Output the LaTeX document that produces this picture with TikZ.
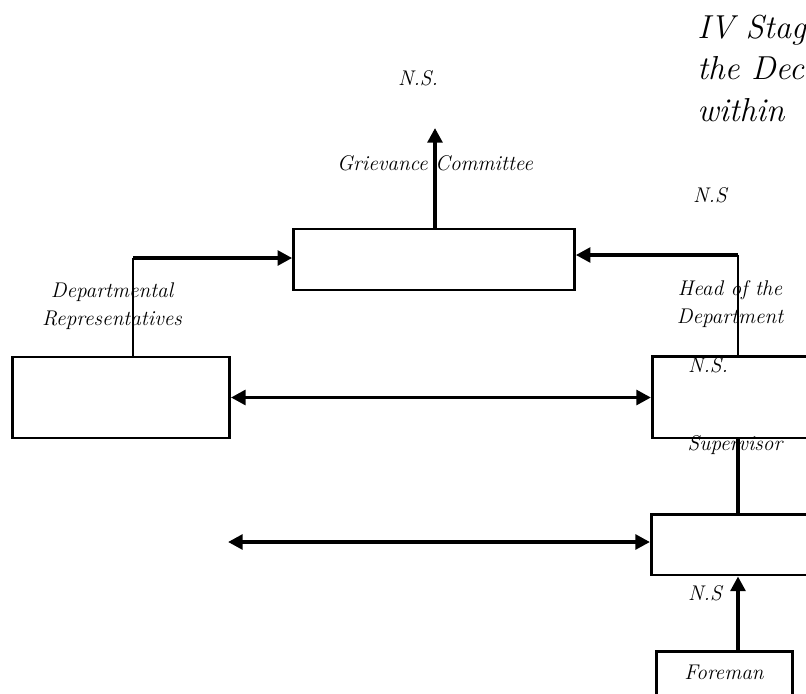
\documentclass[tikz,border=0pt]{standalone}
\usepackage{tikz}
\usetikzlibrary{calc}
\usetikzlibrary{arrows.meta, positioning}

\begin{document}
\begin{tikzpicture}[x=0.02646cm, y=-0.02646cm]
 \tikzstyle{box}=[rectangle, draw, line width=2pt, inner sep=0pt]
 \tikzstyle{lbl}=[font=\fontsize{16}{18}\selectfont\itshape, inner sep=1pt, align=center]
 \tikzstyle{line}=[draw, line width=2.8pt, -{Triangle[length=11pt, width=11pt]}]
 \tikzstyle{dline}=[draw, line width=2.8pt, {Triangle[length=11pt, width=11pt]}-{Triangle[length=11pt, width=11pt]}]

 \clip (0, 0) rectangle (806, 693);

 % title
 \node[anchor=north west, inner sep=0pt, align=left, font=\fontsize{25}{31}\selectfont\itshape] (title) at (697, 15) {IV Stag\\the Dec\\within};

 % boxes (sizes in pt: 1px = 0.75pt)
 \node[box, minimum width=211.5pt, minimum height=45.75pt] (gc) at (434, 259.5) {};
 \node[box, minimum width=163.5pt, minimum height=60.75pt] (dr) at (121, 397.5) {};
 \node[box, minimum width=195pt, minimum height=61.5pt, anchor=north west] (hod) at (651, 355) {};
 \node[box, minimum width=195pt, minimum height=45.75pt, anchor=north west] (sup) at (650, 513) {};
 \node[box, minimum width=102.75pt, minimum height=45pt, anchor=north west] (fore) at (655, 650) {};
 \coordinate (spine) at (738, 0);
 \coordinate (leftend) at (228, 542);
 \coordinate (top) at (435, 128);

 % labels
 \node[lbl] (ns1) at (418, 78) {N.S.};
 \node[lbl] (gclbl) at (435, 163) {Grievance Committee};
 \node[lbl] (ns2) at (710, 195) {N.S};
 \node[lbl] (drlbl) at (112, 306) {Departmental\\[3pt]Representatives};
 \node[lbl] (hodlbl) at (730, 304) {Head of the\\[3pt]Department};
 \node[lbl] (ns3) at (708, 365) {N.S.};
 \node[lbl] (suplbl) at (735, 445) {Supervisor};
 \node[lbl] (ns4) at (705, 593) {N.S};
 \node[lbl] (forelbl) at (724, 672) {Foreman};

 % connectors
 \path [line] (gc.north -| top) -- (top);
 \draw [line width=1.6pt] (dr.north -| 133, 0) -- (133, 258);
 \path [line] (133, 258) -- (gc.west |- 0, 258);
 \draw [line width=1.6pt] (hod.north -| spine) -- (spine |- 0, 255);
 \path [line] (spine |- 0, 255) -- (gc.east |- 0, 255);
 \path [dline] (dr.east) -- (hod.west |- dr.east);
 \draw [line width=2.8pt] (sup.north -| spine) -- (hod.south -| spine);
 \path [dline] (leftend) -- (sup.west |- leftend);
 \path [line] (fore.north -| spine) -- (sup.south -| spine);
\end{tikzpicture}
\end{document}
